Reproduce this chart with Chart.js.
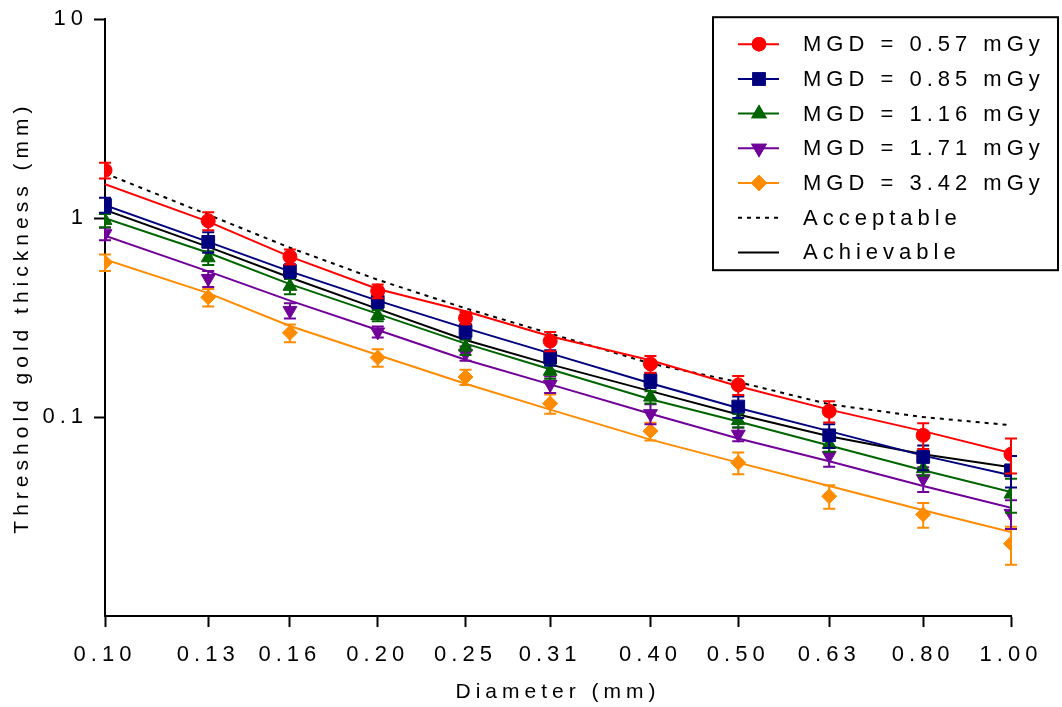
<!DOCTYPE html>
<html>
<head>
<meta charset="utf-8">
<script src="https://cdn.jsdelivr.net/npm/chart.js@4.4.1/dist/chart.umd.min.js"></script>
<style>
  html, body { margin: 0; padding: 0; background: #fff; }
  canvas { display: block; }
</style>
</head>
<body>
<canvas id="myChart" width="1062" height="707"></canvas>
<script>
// Diameters (mm) and tick values
const diameters = [0.10, 0.13, 0.16, 0.20, 0.25, 0.31, 0.40, 0.50, 0.63, 0.80, 1.00];
const yTicks = [0.1, 1, 10];

// Measured thresholds (markers) and their SD
const mgd057 = [1.74, 0.97, 0.64, 0.43, 0.315, 0.241, 0.185, 0.145, 0.107, 0.081, 0.065];
const mgd085 = [1.165, 0.76, 0.543, 0.38, 0.271, 0.199, 0.153, 0.113, 0.081, 0.063, 0.054];
const mgd116 = [0.974, 0.632, 0.454, 0.324, 0.225, 0.17, 0.126, 0.096, 0.073, 0.055, 0.041];
const mgd171 = [0.835, 0.497, 0.343, 0.268, 0.209, 0.146, 0.104, 0.082, 0.064, 0.049, 0.0328];
const mgd342 = [0.60, 0.40, 0.265, 0.199, 0.159, 0.117, 0.085, 0.059, 0.040, 0.0324, 0.0231];

const sd057 = [0.16, 0.10, 0.056, 0.034, 0.022, 0.027, 0.018, 0.016, 0.013, 0.012, 0.013];
const sd085 = [0.10, 0.09, 0.043, 0.028, 0.023, 0.018, 0.013, 0.014, 0.011, 0.009, 0.0097];
const sd116 = [0.075, 0.05, 0.04, 0.021, 0.02, 0.014, 0.009, 0.0075, 0.006, 0.0043, 0.008];
const sd171 = [0.06, 0.046, 0.03, 0.017, 0.017, 0.014, 0.012, 0.0065, 0.0078, 0.007, 0.0054];
const sd342 = [0.057, 0.04, 0.027, 0.02, 0.014, 0.013, 0.0087, 0.0074, 0.0054, 0.0046, 0.005];

// Fitted curves
const fit057 = [1.48, 0.96, 0.64, 0.44, 0.34, 0.255, 0.193, 0.143, 0.109, 0.085, 0.066];
const fit085 = [1.16, 0.76, 0.54, 0.385, 0.28, 0.209, 0.148, 0.111, 0.085, 0.064, 0.051];
const fit116 = [1.0, 0.67, 0.466, 0.33, 0.234, 0.174, 0.123, 0.095, 0.072, 0.054, 0.042];
const fit171 = [0.816, 0.54, 0.385, 0.274, 0.194, 0.146, 0.104, 0.078, 0.060, 0.045, 0.035];
const fit342 = [0.62, 0.42, 0.287, 0.205, 0.147, 0.109, 0.077, 0.059, 0.045, 0.034, 0.0264];

// Limits
const acceptable = [1.68, 1.04, 0.71, 0.49, 0.352, 0.263, 0.186, 0.150, 0.116, 0.100, 0.091];
const achievable = [1.10, 0.717, 0.503, 0.35, 0.244, 0.184, 0.135, 0.103, 0.080, 0.065, 0.056];

const FONT = "'Liberation Sans', Arial, sans-serif";
const pts = arr => arr.map((v, i) => ({ x: diameters[i], y: v }));

const series = [
  { label: 'MGD = 0.57 mGy', data: mgd057, sd: sd057, fit: fit057, color: '#ff0000', style: 'circle', r: 7, rot: 0 },
  { label: 'MGD = 0.85 mGy', data: mgd085, sd: sd085, fit: fit085, color: '#00007f', style: 'rect', r: 9, rot: 0 },
  { label: 'MGD = 1.16 mGy', data: mgd116, sd: sd116, fit: fit116, color: '#006400', style: 'triangle', r: 8, rot: 0 },
  { label: 'MGD = 1.71 mGy', data: mgd171, sd: sd171, fit: fit171, color: '#700099', style: 'triangle', r: 8, rot: 180 },
  { label: 'MGD = 3.42 mGy', data: mgd342, sd: sd342, fit: fit342, color: '#ff8c00', style: 'rectRot', r: 7.5, rot: 0 }
];

const datasets = [];
series.forEach(s => {
  datasets.push({
    label: s.label, data: pts(s.data), errors: s.sd, showLine: false,
    pointStyle: s.style, pointRadius: s.r, pointRotation: s.rot, pointBorderWidth: 1,
    backgroundColor: s.color, borderColor: s.color, inLegend: true
  });
});
series.forEach(s => {
  datasets.push({
    label: s.label + ' fit', data: pts(s.fit), borderColor: s.color, borderWidth: 2,
    pointRadius: 0, tension: 0, fill: false
  });
});
datasets.push({
  label: 'Acceptable', data: pts(acceptable), borderColor: '#000', borderWidth: 2,
  borderDash: [4, 5], pointRadius: 0, fill: false, inLegend: true
});
datasets.push({
  label: 'Achievable', data: pts(achievable), borderColor: '#000', borderWidth: 2,
  pointRadius: 0, fill: false, inLegend: true
});

// letter spacing like the original figure
const spacingPlugin = {
  id: 'spacing',
  beforeUpdate(chart) { chart.ctx.letterSpacing = '5px'; },
  beforeDraw(chart) { chart.ctx.letterSpacing = '5px'; }
};

// error bars drawn under each marker set
const errorBars = {
  id: 'errorBars',
  beforeDatasetDraw(chart, args) {
    const ds = chart.data.datasets[args.index];
    if (!ds.errors) return;
    const ctx = chart.ctx, y = chart.scales.y;
    ctx.save();
    ctx.strokeStyle = ds.borderColor;
    ctx.lineWidth = 2;
    args.meta.data.forEach((pt, i) => {
      const v = ds.data[i].y, e = ds.errors[i];
      const top = y.getPixelForValue(v + e), bot = y.getPixelForValue(v - e);
      ctx.beginPath();
      ctx.moveTo(pt.x, top); ctx.lineTo(pt.x, bot);
      ctx.moveTo(pt.x - 6, top); ctx.lineTo(pt.x + 6, top);
      ctx.moveTo(pt.x - 6, bot); ctx.lineTo(pt.x + 6, bot);
      ctx.stroke();
    });
    ctx.restore();
  }
};

// boxed legend in the top right corner, line sample + marker
const boxLegend = {
  id: 'boxLegend',
  afterDraw(chart) {
    const ctx = chart.ctx, area = chart.chartArea;
    const items = chart.data.datasets.filter(d => d.inLegend);
    const left = area.right - 298, top = area.top - 2, w = 345, h = 253;
    ctx.save();
    ctx.fillStyle = '#fff';
    ctx.fillRect(left, top, w, h);
    ctx.strokeStyle = '#000';
    ctx.lineWidth = 2;
    ctx.strokeRect(left, top, w, h);
    ctx.font = '22px ' + FONT;
    ctx.letterSpacing = '5px';
    ctx.textBaseline = 'middle';
    ctx.textAlign = 'left';
    items.forEach((d, i) => {
      const yy = top + 27 + i * 34.7;
      ctx.strokeStyle = d.borderColor;
      ctx.lineWidth = 2;
      ctx.setLineDash(d.borderDash || []);
      ctx.beginPath();
      ctx.moveTo(left + 25, yy); ctx.lineTo(left + 66, yy);
      ctx.stroke();
      ctx.setLineDash([]);
      if (d.pointStyle && d.showLine === false) {
        ctx.fillStyle = d.backgroundColor;
        Chart.helpers.drawPoint(ctx, { pointStyle: d.pointStyle, rotation: d.pointRotation, radius: d.pointRadius * 0.9, borderWidth: 1 }, left + 46, yy);
        ctx.fill();
        ctx.stroke();
      }
      ctx.fillStyle = '#000';
      ctx.fillText(d.label, left + 90, yy + 1);
    });
    ctx.restore();
  }
};

const ctx = document.getElementById('myChart').getContext('2d');
const myChart = new Chart(ctx, {
  type: 'line',
  data: { datasets: datasets },
  plugins: [spacingPlugin, errorBars, boxLegend],
  options: {
    responsive: false,
    animation: false,
    layout: { padding: { top: 14, right: 51, left: 0, bottom: 0 } },
    plugins: { legend: { display: false }, tooltip: { enabled: false } },
    scales: {
      x: {
        type: 'logarithmic', min: 0.1, max: 1.0,
        afterBuildTicks: s => { s.ticks = diameters.map(v => ({ value: v })); },
        afterFit: s => { s.height = 91; },
        ticks: { callback: v => Number(v).toFixed(2), color: '#000', font: { family: FONT, size: 22 }, padding: 15, maxRotation: 0, autoSkip: false },
        grid: { drawOnChartArea: false, tickLength: 11, tickWidth: 2, color: '#000' },
        border: { color: '#000', width: 2 },
        title: { display: true, text: 'Diameter (mm)', color: '#000', font: { family: FONT, size: 21 }, padding: { top: 0, bottom: 2 } }
      },
      y: {
        type: 'logarithmic', min: 0.01, max: 10,
        afterBuildTicks: s => { s.ticks = yTicks.map(v => ({ value: v })); },
        afterFit: s => { s.width = 105; },
        ticks: { callback: v => String(v), color: '#000', font: { family: FONT, size: 22 }, padding: 6 },
        grid: { drawOnChartArea: false, tickLength: 11, tickWidth: 2, color: '#000' },
        border: { color: '#000', width: 2 },
        title: { display: true, text: 'Threshold gold thickness (mm)', color: '#000', font: { family: FONT, size: 21 }, padding: { top: 10, bottom: 0 } }
      }
    }
  }
});
</script>
</body>
</html>
